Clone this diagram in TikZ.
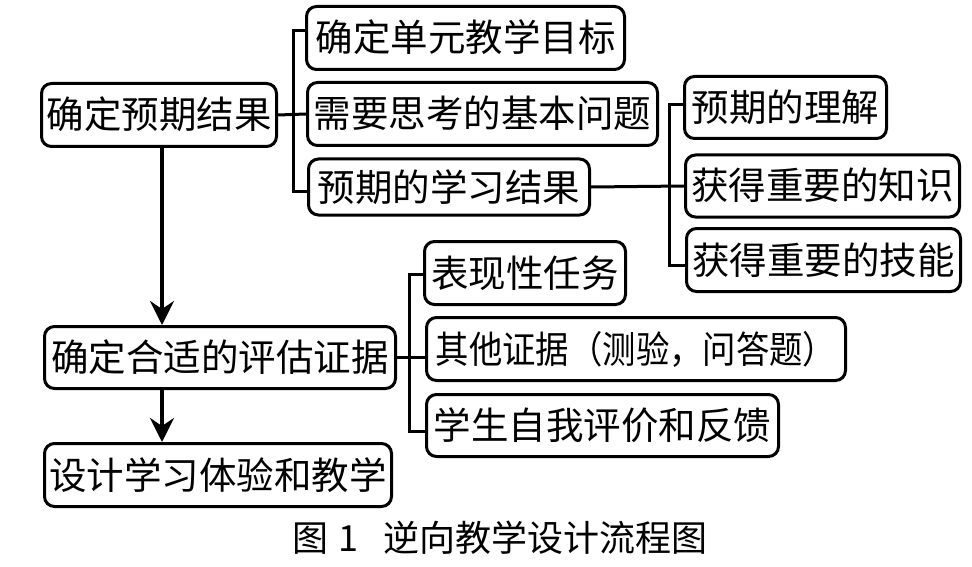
\documentclass[tikz,border=0pt]{standalone}
\usepackage{fontspec}
\usepackage{graphicx}
\newfontfamily\cjk{Noto Sans CJK SC}
\usetikzlibrary{arrows.meta}
\tikzset{
  boxnode/.style={draw, line width=3pt, rounded corners=10pt, inner sep=0pt,
    font=\cjk\fontsize{37.5}{40}\selectfont, text height=31pt, text depth=3pt},
  conn/.style={line width=3pt},
  arr/.style={line width=3.5pt, -{Stealth[length=24pt,width=24pt,inset=8pt]}},
}
\begin{document}
\begin{tikzpicture}[x=1pt,y=-1pt]
\useasboundingbox[fill=white] (0,0) rectangle (972,567);
\node[boxnode, minimum width=235pt, minimum height=63pt] (A) at (159,115) {确定预期结果};
\node[boxnode, minimum width=318pt, minimum height=63pt] (B1) at (465.5,38) {确定单元教学目标};
\node[boxnode, minimum width=350pt, minimum height=63pt] (B2) at (482.5,114) {需要思考的基本问题};
\node[boxnode, minimum width=281pt, minimum height=56pt] (B3) at (449,187) {预期的学习结果};
\node[boxnode, minimum width=202pt, minimum height=62pt] (C1) at (785.5,107.5) {预期的理解};
\node[boxnode, minimum width=274pt, minimum height=62pt] (C2) at (822.5,186) {获得重要的知识};
\node[boxnode, minimum width=274pt, minimum height=63pt] (C3) at (823.5,260) {获得重要的技能};
\node[boxnode, minimum width=351pt, minimum height=62pt] (D) at (220,357.5) {确定合适的评估证据};
\node[boxnode, minimum width=347pt, minimum height=63pt] (E) at (218,475) {设计学习体验和教学};
\node[boxnode, minimum width=201pt, minimum height=63pt] (F1) at (525,273) {表现性任务};
\node[boxnode, minimum width=419pt, minimum height=63pt] (F2) at (636,349) {\scalebox{0.89}[1]{其他证据（测验，问答题）}};
\node[boxnode, minimum width=352pt, minimum height=62pt] (F3) at (602.5,425.5) {学生自我评价和反馈};
% bracket B
\coordinate (bB) at (293,114);
\draw[conn] ([yshift=7pt]B1.west) -| (bB) |- ([yshift=-4pt]B3.west);
\draw[conn] (A.east) -- (B2.west);
% bracket C
\coordinate (bC) at (669,187);
\draw[conn] ([yshift=3pt]C1.west) -| (bC) |- ([yshift=-5pt]C3.west);
\draw[conn] (B3.east) -- (C2.west);
% bracket F
\coordinate (bF) at (409,357.5);
\draw[conn] ([yshift=-1pt]F1.west) -| (bF) |- ([yshift=-6pt]F3.west);
\draw[conn] (D.east) -- (D.east -| F2.west);
% arrows
\coordinate (ax) at (162,0);
\draw[arr] (A.south -| ax) -- (D.north -| ax);
\draw[arr] (D.south -| ax) -- (E.north -| ax);
% caption
\node[font=\cjk\fontsize{36}{40}\selectfont, inner sep=0pt] (cap) at (500,538) {图\hspace{0.3em}1\hspace{0.7em}逆向教学设计流程图};
\end{tikzpicture}
\end{document}
